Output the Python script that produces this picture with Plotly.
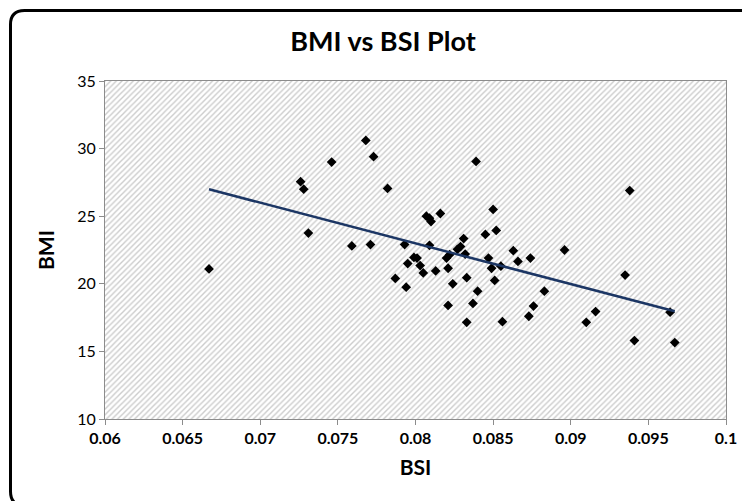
import numpy as np
import plotly.graph_objects as go

# ---- data ----
bsi = [0.0667, 0.0726, 0.0728, 0.0731, 0.0746, 0.0759, 0.0768, 0.0771, 0.0773, 0.0782,
       0.0787, 0.0793, 0.0794, 0.0795, 0.0799, 0.0801, 0.0803, 0.0805, 0.0807, 0.0809,
       0.0810, 0.0809, 0.0813, 0.0816, 0.0820, 0.0821, 0.0821, 0.0822, 0.0824, 0.0827,
       0.0829, 0.0831, 0.0832, 0.0833, 0.0833, 0.0837, 0.0839, 0.0840, 0.0845, 0.0847,
       0.0849, 0.0850, 0.0851, 0.0852, 0.0855, 0.0856, 0.0863, 0.0866, 0.0873, 0.0874,
       0.0876, 0.0883, 0.0896, 0.0910, 0.0916, 0.0935, 0.0938, 0.0941, 0.0964, 0.0967]
bmi = [21.1, 27.55, 27.0, 23.75, 29.0, 22.8, 30.6, 22.9, 29.4, 27.05,
       20.4, 22.9, 19.75, 21.5, 21.95, 21.9, 21.35, 20.8, 25.0, 24.85,
       24.6, 22.85, 20.95, 25.2, 21.9, 21.15, 18.4, 22.15, 20.0, 22.55,
       22.75, 23.35, 22.2, 20.45, 17.15, 18.55, 29.05, 19.45, 23.65, 21.9,
       21.15, 25.5, 20.25, 23.95, 21.3, 17.2, 22.45, 21.65, 17.6, 21.9,
       18.35, 19.45, 22.5, 17.15, 17.95, 20.65, 26.9, 15.8, 17.9, 15.65]

x_ticks = [0.06, 0.065, 0.07, 0.075, 0.08, 0.085, 0.09, 0.095, 0.1]
x_ticklabels = ["0.06", "0.065", "0.07", "0.075", "0.08", "0.085", "0.09", "0.095", "0.1"]
y_ticks = [10, 15, 20, 25, 30, 35]
x_range = [0.06, 0.1]
y_range = [10, 35]

# linear trendline (least squares) across the data span
slope, intercept = np.polyfit(bsi, bmi, 1)
trend_x = [min(bsi), max(bsi)]
trend_y = [slope * v + intercept for v in trend_x]

W, H = 750, 501
L, R, T, B = 97, 32, 73, 90

fig = go.Figure()

# hatched plot background
fig.add_trace(go.Scatter(
    x=[x_range[0], x_range[1], x_range[1], x_range[0], x_range[0]],
    y=[y_range[0], y_range[0], y_range[1], y_range[1], y_range[0]],
    mode="none", fill="toself", fillcolor="white",
    fillpattern=dict(shape="/", size=4, solidity=0.35, fgcolor="#999999", bgcolor="white"),
    hoverinfo="skip", showlegend=False,
))

fig.add_trace(go.Scatter(
    x=bsi, y=bmi, mode="markers",
    marker=dict(symbol="diamond", size=7.5, color="black"),
    showlegend=False,
))

fig.add_trace(go.Scatter(
    x=trend_x, y=trend_y, mode="lines",
    line=dict(color="#1c3664", width=2.5),
    showlegend=False,
))

# rounded outer border (pixel -> paper conversion)
pw, ph = W - L - R, H - T - B
def px(xp):
    return (xp - L) / pw
def py(yp):
    return (H - B - yp) / ph
x0, x1, y0, y1, r = 2.5, 746.5, 2.5, 497.5, 14
path = (f"M {px(x0 + r)},{py(y0)} L {px(x1 - r)},{py(y0)} "
        f"Q {px(x1)},{py(y0)} {px(x1)},{py(y0 + r)} "
        f"L {px(x1)},{py(y1 - r)} Q {px(x1)},{py(y1)} {px(x1 - r)},{py(y1)} "
        f"L {px(x0 + r)},{py(y1)} Q {px(x0)},{py(y1)} {px(x0)},{py(y1 - r)} "
        f"L {px(x0)},{py(y0 + r)} Q {px(x0)},{py(y0)} {px(x0 + r)},{py(y0)} Z")
fig.add_shape(type="path", path=path, xref="paper", yref="paper",
              line=dict(color="black", width=3), fillcolor="rgba(0,0,0,0)", layer="above")

font_family = "Lato, 'Open Sans', sans-serif"
fig.update_layout(
    width=W, height=H,
    margin=dict(l=L, r=R, t=T, b=B, autoexpand=False),
    paper_bgcolor="white", plot_bgcolor="white",
    font=dict(family=font_family, color="black"),
    title=dict(text="<b>BMI vs BSI Plot</b>", x=0.5, xref="container", xanchor="center",
               y=1 - 34 / H, yref="container", yanchor="middle",
               font=dict(size=27, family=font_family, color="black")),
    xaxis=dict(range=x_range, tickvals=x_ticks, ticktext=[f"<b>{t}</b>" for t in x_ticklabels],
               showgrid=False, zeroline=False, showline=True, linecolor="#8c8c8c", linewidth=1,
               mirror=True, ticks="outside", ticklen=5, tickcolor="#8c8c8c",
               tickfont=dict(size=16, color="black"),
               title=dict(text="<b>BSI</b>", font=dict(size=21, color="black"), standoff=14)),
    yaxis=dict(range=y_range, tickvals=y_ticks,
               showgrid=False, zeroline=False, showline=True, linecolor="#8c8c8c", linewidth=1,
               mirror=True, ticks="outside", ticklen=5, tickcolor="#8c8c8c",
               tickfont=dict(size=16, color="black"),
               title=dict(text="<b>BMI</b>", font=dict(size=21, color="black"), standoff=16)),
)

fig.write_html("out.html")
